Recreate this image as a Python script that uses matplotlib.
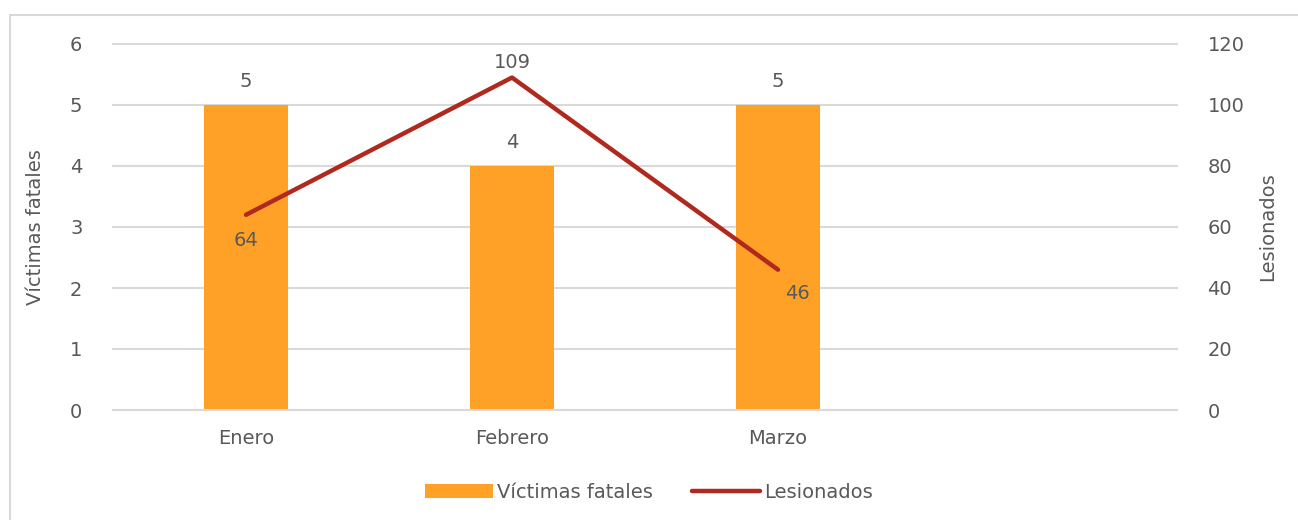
import matplotlib.pyplot as plt
import matplotlib.patches as mpatches
import numpy as np

# data
meses = ['Enero', 'Febrero', 'Marzo', '']
victimas = [5, 4, 5]
lesionados = [64, 109, 46]
victimas_ticks = [0, 1, 2, 3, 4, 5, 6]
lesionados_ticks = [0, 20, 40, 60, 80, 100, 120]

txt = '#595959'
grid = '#D9D9D9'
bar_color = '#FFA126'
line_color = '#B0281E'
fs = 14

plt.rcParams['font.family'] = ['DejaVu Sans']
plt.rcParams['font.size'] = fs

fig = plt.figure(figsize=(12.98, 5.2), dpi=100)
ax = fig.add_axes([113 / 1298, 1 - 410 / 520, (1177 - 113) / 1298, (410 - 44) / 520])
ax2 = ax.twinx()

# border around chart area
fig.patches.append(mpatches.Rectangle((10 / 1298, -0.1), 1.2, (520 - 15) / 520 + 0.1,
                                      transform=fig.transFigure, fill=False,
                                      edgecolor=grid, linewidth=1.5))

x = np.arange(len(meses))
xb = x[:len(victimas)]

ax.set_ylim(0, 6)
ax.set_yticks(victimas_ticks)
ax.set_xlim(-0.5, len(meses) - 0.5)
ax.set_xticks(x)
ax.set_xticklabels(meses)
ax.grid(axis='y', color=grid, linewidth=1.5)
for gl in ax.get_ygridlines():
    gl.set_clip_on(False)
ax.set_axisbelow(True)

bars = ax.bar(xb, victimas, width=0.316, color=bar_color, zorder=2, label='Víctimas fatales')
for xi, v in zip(xb, victimas):
    ax.annotate(str(v), (xi, v), xytext=(0, 10), textcoords='offset points',
                ha='center', va='bottom', color=txt, fontsize=fs)

ax2.set_ylim(0, 120)
ax2.set_yticks(lesionados_ticks)
line, = ax2.plot(xb, lesionados, color=line_color, linewidth=3.2, solid_capstyle='round',
                 label='Lesionados', zorder=3)
offsets = [(0, -12, 'top'), (0, 4, 'bottom'), (14, -10, 'top')]
for xi, v, (dx, dy, va) in zip(xb, lesionados, offsets):
    ax2.annotate(str(v), (xi, v), xytext=(dx, dy), textcoords='offset points',
                 ha='center', va=va, color=txt, fontsize=fs)

for a in (ax, ax2):
    for s in a.spines.values():
        s.set_visible(False)
    a.tick_params(length=0, colors=txt, labelsize=fs)
ax.spines['bottom'].set_visible(True)
ax.spines['bottom'].set_color(grid)
ax.spines['bottom'].set_linewidth(1.5)
ax.tick_params(axis='y', pad=22)
ax.tick_params(axis='x', pad=14)
ax2.tick_params(axis='y', pad=22)

ax.set_ylabel('Víctimas fatales', color=txt, fontsize=fs, labelpad=18)
ax2.set_ylabel('Lesionados', color=txt, fontsize=fs, labelpad=10)

fig.legend(handles=[bars, line], loc='center', bbox_to_anchor=(0.5, 1 - 492 / 520),
           ncol=2, frameon=False, fontsize=fs, labelcolor=txt, handlelength=3.5,
           handletextpad=0.2, columnspacing=2.0)

fig.savefig('out.png', dpi=100)
